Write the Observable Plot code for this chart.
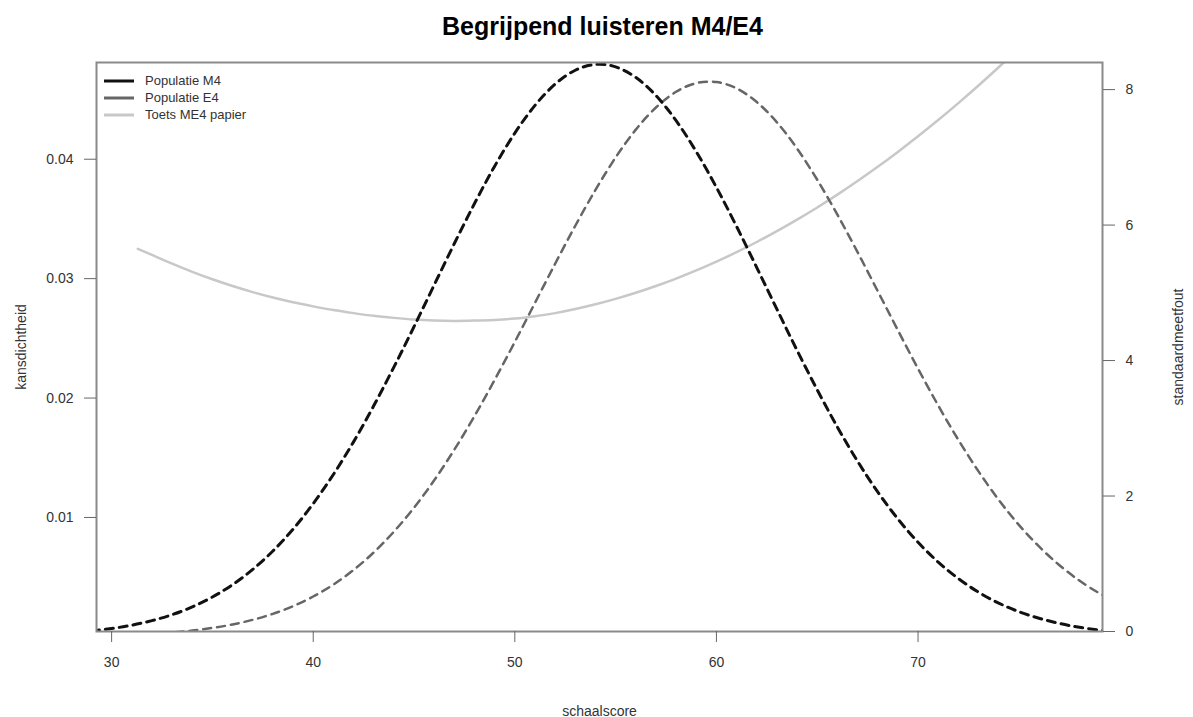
<!DOCTYPE html>
<html>
<head>
<meta charset="utf-8">
<script src="https://cdn.jsdelivr.net/npm/d3@7"></script>
<script src="https://cdn.jsdelivr.net/npm/@observablehq/plot@0.6"></script>
<style>
  html, body { margin: 0; padding: 0; background: #fff; }
  #wrap { position: relative; width: 1193px; height: 717px; font-family: Arial, "Liberation Sans", Helvetica, sans-serif; }
  #title { height: 48px; box-sizing: border-box; padding-top: 14px; padding-left: 12px; text-align: center; font-size: 25px; font-weight: bold; line-height: 1; color: #000; }
  #legend { position: absolute; left: 104px; top: 72px; font-size: 13px; color: #333; }
  #legend .row { display: flex; align-items: center; height: 17px; }
  #legend svg { margin-right: 11px; }
</style>
</head>
<body>
<div id="wrap">
  <div id="title">Begrijpend luisteren M4/E4</div>
  <div id="chart"></div>
  <div id="legend"></div>
</div>
<script>
// ---- data ----
const score = [29,30,31,32,33,34,35,36,37,38,39,40,41,42,43,44,45,46,47,48,49,50,51,52,53,54,55,56,57,58,59,60,61,62,63,64,65,66,67,68,69,70,71,72,73,74,75,76,77,78,79,80];
const densM4 = [0.00049,0.00070,0.00098,0.00136,0.00186,0.00251,0.00334,0.00437,0.00565,0.00719,0.00902,0.01116,0.01360,0.01633,0.01935,0.02259,0.02598,0.02947,0.03294,0.03629,0.03942,0.04219,0.04451,0.04629,0.04745,0.04794,0.04773,0.04685,0.04533,0.04323,0.04063,0.03764,0.03437,0.03093,0.02744,0.02399,0.02069,0.01757,0.01471,0.01214,0.00988,0.00792,0.00626,0.00488,0.00374,0.00283,0.00211,0.00156,0.00113,0.00080,0.00057,0.00039];
const densE4 = [0.00008,0.00012,0.00018,0.00026,0.00037,0.00053,0.00075,0.00104,0.00143,0.00193,0.00257,0.00338,0.00438,0.00560,0.00707,0.00881,0.01082,0.01311,0.01568,0.01849,0.02152,0.02470,0.02797,0.03125,0.03443,0.03743,0.04015,0.04248,0.04433,0.04565,0.04637,0.04646,0.04593,0.04479,0.04309,0.04089,0.03828,0.03536,0.03222,0.02896,0.02568,0.02246,0.01938,0.01650,0.01386,0.01148,0.00938,0.00757,0.00602,0.00472,0.00365,0.00279];
const semScore = [31.3,32,33,34,35,36,37,38,39,40,41,42,43,44,45,46,47,48,49,50,51,52,53,54,55,56,57,58,59,60,61,62,63,64,65,66,67,68,69,70,71,72,73,74,75];
const semValue = [5.65,5.56,5.43,5.31,5.20,5.10,5.01,4.93,4.86,4.80,4.745,4.70,4.66,4.63,4.605,4.59,4.585,4.59,4.60,4.62,4.655,4.70,4.76,4.83,4.91,5.00,5.10,5.21,5.33,5.46,5.60,5.75,5.91,6.08,6.26,6.45,6.65,6.86,7.08,7.31,7.55,7.80,8.06,8.33,8.61];
const xTicks = [30,40,50,60,70];
const leftTicks = [0.01,0.02,0.03,0.04];
const rightTicks = [0,2,4,6,8];
const seriesNames = ["Populatie M4","Populatie E4","Toets ME4 papier"];
const seriesColors = ["#111111","#666666","#c8c8c8"];

// ---- scales ----
const xDomain = [29.25, 79.15];
const yDomain = [0.00045, 0.0481];
const rightDomain = [0, 8.40];
const toLeft = r => yDomain[0] + (r - rightDomain[0]) / (rightDomain[1] - rightDomain[0]) * (yDomain[1] - yDomain[0]);
const fromLeft = v => rightDomain[0] + (v - yDomain[0]) / (yDomain[1] - yDomain[0]) * (rightDomain[1] - rightDomain[0]);

const m4 = score.map((s, i) => ({x: s, y: densM4[i]}));
const e4 = score.map((s, i) => ({x: s, y: densE4[i]}));
const sem = semScore.map((s, i) => ({x: s, y: semValue[i]}));

const chart = Plot.plot({
  width: 1193,
  height: 669,
  marginLeft: 96,
  marginRight: 91,
  marginTop: 14,
  marginBottom: 86,
  style: {fontFamily: 'Arial, "Liberation Sans", Helvetica, sans-serif', fontSize: "14px", color: "#333", background: "#fff"},
  x: {domain: xDomain},
  y: {domain: yDomain},
  marks: [
    Plot.line(sem, {x: "x", y: d => toLeft(d.y), stroke: seriesColors[2], strokeWidth: 2.5, curve: "natural", clip: true}),
    Plot.line(e4, {x: "x", y: "y", stroke: seriesColors[1], strokeWidth: 2.5, strokeDasharray: "8,6", curve: "natural", clip: true}),
    Plot.line(m4, {x: "x", y: "y", stroke: seriesColors[0], strokeWidth: 3, strokeDasharray: "8,6", curve: "natural", clip: true}),
    Plot.frame({stroke: "#8a8a8a", strokeWidth: 2}),
    Plot.axisX(xTicks, {anchor: "bottom", tickSize: 11, tickPadding: 15, stroke: "#666", fontSize: 14,
      label: "schaalscore", labelAnchor: "center", labelArrow: "none", labelOffset: 84}),
    Plot.axisY(leftTicks, {anchor: "left", tickSize: 12, tickPadding: 11, stroke: "#666", fontSize: 14,
      tickFormat: d3.format(".2f"), label: "kansdichtheid", labelAnchor: "center", labelArrow: "none", labelOffset: 80}),
    Plot.axisY(rightTicks.map(toLeft), {anchor: "right", tickSize: 12, tickPadding: 11, stroke: "#666", fontSize: 14,
      tickFormat: d => String(Math.round(fromLeft(d))), label: "standaardmeetfout", labelAnchor: "center", labelArrow: "none", labelOffset: 80})
  ]
});
document.getElementById("chart").appendChild(chart);

// legend (inside plot area, top-left)
const legend = document.getElementById("legend");
seriesNames.forEach((name, i) => {
  const row = document.createElement("div");
  row.className = "row";
  row.innerHTML = `<svg width="30" height="6"><line x1="0" y1="3" x2="30" y2="3" stroke="${seriesColors[i]}" stroke-width="3"/></svg><span>${name}</span>`;
  legend.appendChild(row);
});
</script>
</body>
</html>
